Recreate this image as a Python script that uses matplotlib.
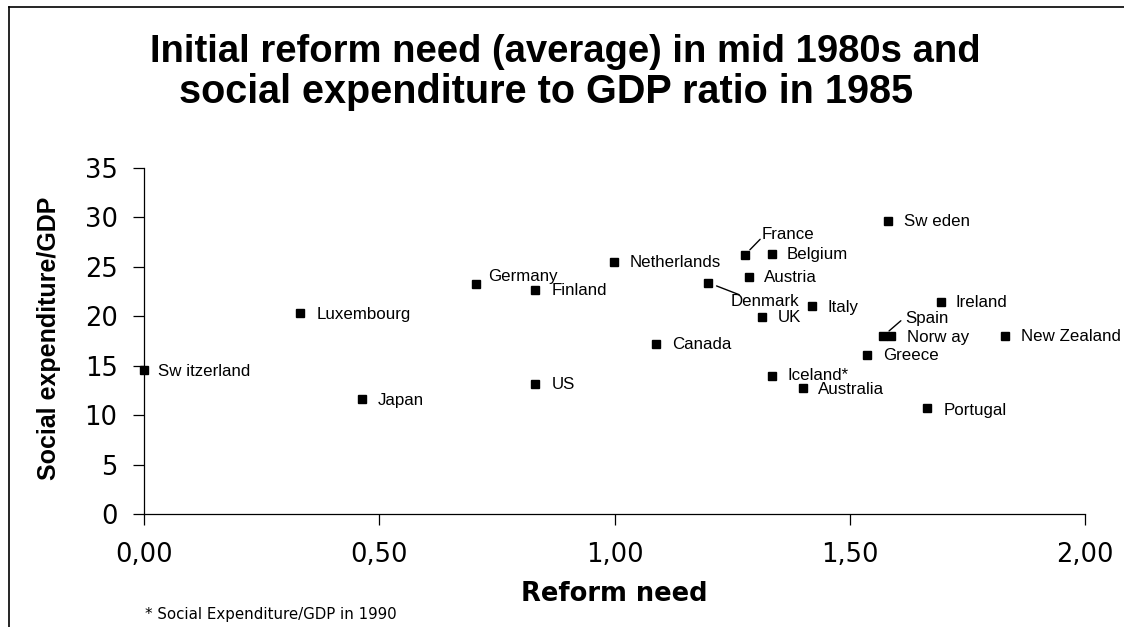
import matplotlib
matplotlib.use('Agg')
import matplotlib.pyplot as plt
from matplotlib.lines import Line2D

# ---- data ----
countries = ['Switzerland', 'Luxembourg', 'Japan', 'Germany', 'Finland', 'US',
             'Netherlands', 'Canada', 'Denmark', 'France', 'Belgium', 'Austria',
             'Italy', 'UK', 'Sweden', 'Spain', 'Norway', 'Ireland', 'New Zealand',
             'Greece', 'Portugal', 'Iceland*', 'Australia']
point_labels = ['Sw itzerland', 'Luxembourg', 'Japan', 'Germany', 'Finland', 'US',
                'Netherlands', 'Canada', 'Denmark', 'France', 'Belgium', 'Austria',
                'Italy', 'UK', 'Sw eden', 'Spain', 'Norw ay', 'Ireland', 'New Zealand',
                'Greece', 'Portugal', 'Iceland*', 'Australia']
reform_need = [0.00, 0.332, 0.463, 0.706, 0.832, 0.831,
               0.999, 1.088, 1.199, 1.277, 1.334, 1.286,
               1.420, 1.313, 1.582, 1.571, 1.588, 1.693, 1.831,
               1.536, 1.665, 1.334, 1.400]
social_exp = [14.6, 20.3, 11.6, 23.3, 22.7, 13.2,
              25.5, 17.2, 23.4, 26.2, 26.3, 24.0,
              21.0, 19.9, 29.6, 18.0, 18.0, 21.4, 18.0,
              16.1, 10.7, 14.0, 12.7]
x_ticks = [0.0, 0.5, 1.0, 1.5, 2.0]
x_tick_labels = ['0,00', '0,50', '1,00', '1,50', '2,00']
y_ticks = [0, 5, 10, 15, 20, 25, 30, 35]
title_lines = ['Initial reform need (average) in mid 1980s and',
               'social expenditure to GDP ratio in 1985']
x_label = 'Reform need'
y_label = 'Social expenditure/GDP'
footnote = '* Social Expenditure/GDP in 1990'

# ---- label placement (pixel offsets: right, up) ----
default_off = (16, -1)
label_off = {
    'Switzerland': (14, -2), 'Germany': (12, 7), 'Denmark': (22, -19),
    'France': (17, 20), 'Belgium': (15, 0), 'Austria': (15, -1),
    'Italy': (15, -1), 'UK': (16, 0), 'Sweden': (16, 0), 'Spain': (22, 18),
    'Ireland': (15, 0), 'New Zealand': (16, 0), 'Iceland*': (16, 0),
    'Portugal': (16, -2), 'Australia': (15, -1), 'US': (17, -1),
}
# leader lines: (end offset px right, up), shrink from marker (pt)
leaders = {
    'France': ((15.3, 15.7), 5.2),
    'Denmark': ((31, -12), 6.5),
    'Spain': ((17.7, 15.3), 5.6),
}

W, H = 1124, 627
fig = plt.figure(figsize=(W / 100, H / 100), dpi=100)
fig.patch.set_facecolor('white')

ax_l, ax_r, ax_b, ax_t = 144, 1085, 514, 168
ax = fig.add_axes([ax_l / W, 1 - ax_b / H, (ax_r - ax_l) / W, (ax_b - ax_t) / H])

ax.plot(reform_need, social_exp, ls='none', marker='s', ms=6, color='black',
        clip_on=False, zorder=3)

ax.set_xlim(0, 2)
ax.set_ylim(0, 35)
ax.set_xticks(x_ticks)
ax.set_xticklabels(x_tick_labels)
ax.set_yticks(y_ticks)
for s in ['top', 'right']:
    ax.spines[s].set_visible(False)
for s in ['left', 'bottom']:
    ax.spines[s].set_linewidth(0.9)
    ax.spines[s].set_color('black')
ax.tick_params(axis='both', direction='out', length=8, width=0.9, colors='black')
ax.tick_params(axis='y', pad=11)
ax.tick_params(axis='x', pad=12)
for lab in ax.get_xticklabels() + ax.get_yticklabels():
    lab.set_fontfamily('DejaVu Sans')
    lab.set_fontsize(18.5)

lab_font = dict(family='Liberation Sans', fontsize=12.2, color='black')
for name, lab, x, y in zip(countries, point_labels, reform_need, social_exp):
    dx, dy = label_off.get(name, default_off)
    ax.annotate(lab, xy=(x, y), xytext=(dx, dy), textcoords='offset pixels',
                ha='left', va='center', annotation_clip=False, **lab_font)
    if name in leaders:
        (ex, ey), shr = leaders[name]
        ax.annotate('', xy=(x, y), xytext=(ex, ey), textcoords='offset pixels',
                    arrowprops=dict(arrowstyle='-', lw=1.0, color='black',
                                    shrinkA=0, shrinkB=shr),
                    annotation_clip=False)

# titles and axis labels
fig.text(565.5 / W, 1 - 52 / H, title_lines[0], ha='center', va='center',
         family='Liberation Sans', fontweight='bold', fontsize=27.5)
fig.text(546.5 / W, 1 - 92 / H, title_lines[1], ha='center', va='center',
         family='Liberation Sans', fontweight='bold', fontsize=28.5)
fig.text(614 / W, 1 - 594 / H, x_label, ha='center', va='center',
         family='DejaVu Sans', fontweight='bold', fontsize=18.5)
fig.text(49 / W, 1 - 338 / H, y_label, ha='center', va='center', rotation=90,
         family='Liberation Sans', fontweight='bold', fontsize=18)
fig.text(145 / W, 1 - 614 / H, footnote, ha='left', va='center',
         family='DejaVu Sans', fontsize=10.8)

# outer frame (left and top edges)
fig.add_artist(Line2D([8.5 / W, 8.5 / W], [0, 1 - 6.5 / H], transform=fig.transFigure,
                      color='black', lw=1.2))
fig.add_artist(Line2D([8.5 / W, 1], [1 - 6.5 / H, 1 - 6.5 / H], transform=fig.transFigure,
                      color='black', lw=1.2))

fig.savefig('out.png', dpi=100)
